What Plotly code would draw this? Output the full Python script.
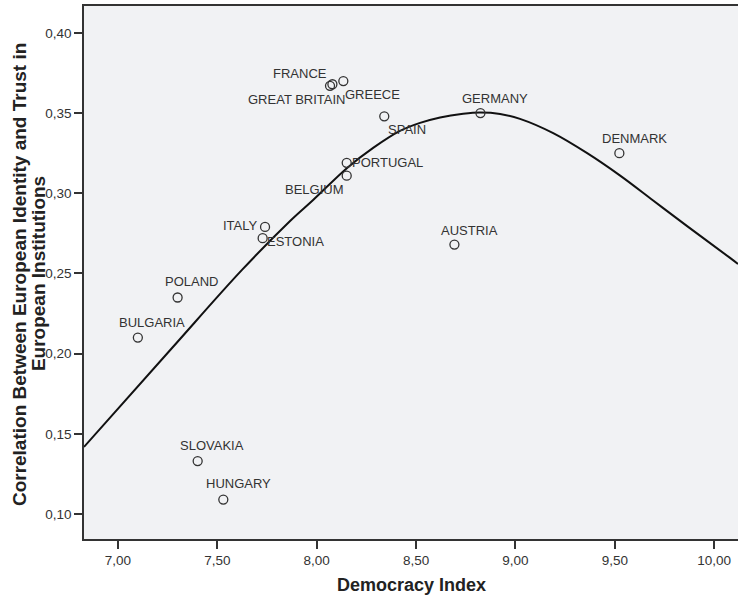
import plotly.graph_objects as go

# ---- data ----
countries = ["FRANCE", "GREAT BRITAIN", "GREECE", "SPAIN", "PORTUGAL", "BELGIUM",
             "GERMANY", "DENMARK", "AUSTRIA", "ITALY", "ESTONIA", "POLAND",
             "BULGARIA", "SLOVAKIA", "HUNGARY"]
democracy_index = [8.079, 8.067, 8.134, 8.340, 8.151, 8.151,
                   8.824, 9.523, 8.693, 7.740, 7.728, 7.300,
                   7.100, 7.401, 7.530]
correlation = [0.368, 0.367, 0.370, 0.348, 0.319, 0.311,
               0.350, 0.325, 0.268, 0.279, 0.272, 0.235,
               0.210, 0.133, 0.109]

# fitted curve
fit_x = [6.829, 7.272, 7.624, 7.866, 7.982, 8.153, 8.284, 8.419, 8.520, 8.621,
         8.737, 8.822, 8.923, 9.023, 9.190, 9.361, 9.527, 9.693, 9.864, 10.080, 10.120]
fit_y = [0.1418, 0.2035, 0.2522, 0.2827, 0.2958, 0.3158, 0.3283, 0.3389, 0.3439, 0.3473,
         0.3496, 0.3504, 0.3495, 0.3464, 0.3375, 0.3250, 0.3110, 0.2955, 0.2795, 0.2597, 0.2559]

x_tick_vals = [7.0, 7.5, 8.0, 8.5, 9.0, 9.5, 10.0]
y_tick_vals = [0.10, 0.15, 0.20, 0.25, 0.30, 0.35, 0.40]

x_title = "Democracy Index"
y_title_lines = ["Correlation Between European Identity and Trust in", "European Institutions"]

# ---- label placement (pixel offsets from each point) ----
label_offsets = {
    "FRANCE": (-32, 11), "GREAT BRITAIN": (-33, -14), "GREECE": (29, -13),
    "SPAIN": (23, -13), "PORTUGAL": (41, 0), "BELGIUM": (-32, -14),
    "GERMANY": (15, 15), "DENMARK": (15, 15), "AUSTRIA": (15, 14),
    "ITALY": (-25, 1), "ESTONIA": (33, -3), "POLAND": (14, 16),
    "BULGARIA": (14, 15), "SLOVAKIA": (14, 16), "HUNGARY": (15, 16),
}
y_title_x = [-0.0994, -0.0703]

FONT = "Liberation Sans, Arial, sans-serif"

fig = go.Figure()
fig.add_trace(go.Scatter(
    x=fit_x, y=fit_y, mode="lines", line=dict(color="#111111", width=2, shape="spline"),
    hoverinfo="skip", showlegend=False))
fig.add_trace(go.Scatter(
    x=democracy_index, y=correlation, mode="markers", text=countries,
    marker=dict(symbol="circle-open", size=9, color="#333333", line=dict(width=1.3, color="#333333")),
    showlegend=False))

annotations = []
for name, xv, yv in zip(countries, democracy_index, correlation):
    dx, dy = label_offsets[name]
    annotations.append(dict(x=xv, y=yv, xref="x", yref="y", text=name, showarrow=False,
                            xshift=dx, yshift=dy, xanchor="center", yanchor="middle",
                            font=dict(family=FONT, size=13, color="#333333")))

annotations.append(dict(xref="paper", yref="paper", x=0.5, y=-0.0863, text=x_title,
                        showarrow=False, xanchor="center", yanchor="middle",
                        font=dict(family=FONT, size=18, color="#222222", weight="bold")))
for line, xp in zip(y_title_lines, y_title_x):
    annotations.append(dict(xref="paper", yref="paper", x=xp, y=0.497, text=line,
                            showarrow=False, xanchor="center", yanchor="middle", textangle=-90,
                            font=dict(family=FONT, size=19, color="#222222", weight="bold")))

fig.update_layout(
    width=738, height=598,
    margin=dict(l=84, r=0, t=6, b=59),
    paper_bgcolor="white", plot_bgcolor="#F1F2F4",
    separators=",.",
    font=dict(family=FONT, size=13.5, color="#333333"),
    annotations=annotations,
    xaxis=dict(range=[6.829, 10.12], tickvals=x_tick_vals, tickformat=".2f", automargin=False,
               showgrid=False, zeroline=False, showline=True, linecolor="#333333", linewidth=1.5,
               mirror=True, ticks="outside", ticklen=8, tickcolor="#333333", tickwidth=1.5,
               tickfont=dict(size=13.5, color="#333333")),
    yaxis=dict(range=[0.0844, 0.4168], tickvals=y_tick_vals, tickformat=".2f", automargin=False,
               showgrid=False, zeroline=False, showline=True, linecolor="#333333", linewidth=1.5,
               ticks="outside", ticklen=8, tickcolor="#333333", tickwidth=1.5,
               tickfont=dict(size=13.5, color="#333333")),
)

fig.write_html("out.html", config={"displayModeBar": False},
               post_script="document.body.style.margin='0px';document.body.style.overflow='hidden';")
